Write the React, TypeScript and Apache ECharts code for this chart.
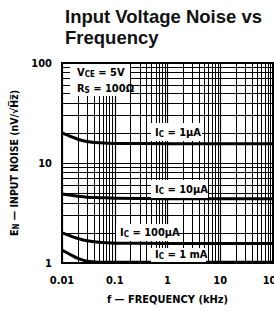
import React, { useEffect, useRef } from "react";
import * as echarts from "echarts";

// Frequency (kHz) sample points
const freqs = [0.01, 0.015, 0.02, 0.03, 0.05, 0.07, 0.1, 1, 10, 100];
// Input noise (nV/√Hz) per collector current
const ic1uA = [20, 18.3, 17.3, 16.4, 15.9, 15.8, 15.7, 15.6, 15.6, 15.6];
const ic10uA = [4.9, 4.75, 4.65, 4.55, 4.5, 4.48, 4.45, 4.4, 4.4, 4.4];
const ic100uA = [2.0, 1.85, 1.76, 1.67, 1.61, 1.59, 1.58, 1.57, 1.57, 1.57];
const ic1mA = [1.35, 1.2, 1.11, 1.04, 1.02, 1.02, 1.02, 1.02, 1.02, 1.02];

// log-paper grid
const xDecades = [0.01, 0.1, 1, 10];
const yDecades = [1, 10];
const minorMult = [2, 3, 4, 5, 6, 7, 8, 9];

const FONT = "'Liberation Sans Narrow', 'DejaVu Sans Condensed', 'Liberation Sans', sans-serif";

const pair = (ys: number[]) => freqs.map((f, i) => [f, ys[i]]);

export default function App() {
  const ref = useRef<HTMLDivElement>(null);
  useEffect(() => {
    if (!ref.current) return;
    const chart = echarts.init(ref.current, undefined, { renderer: "svg" });
    const gridLines: any[] = [];
    xDecades.forEach((d) => minorMult.forEach((m) => gridLines.push({ xAxis: d * m })));
    yDecades.forEach((d) => minorMult.forEach((m) => gridLines.push({ yAxis: d * m })));

    const curve = (name: string, ys: number[]) => ({
      name,
      type: "line",
      data: pair(ys),
      smooth: 0.3,
      symbol: "none",
      z: 5,
      lineStyle: { color: "#000", width: 3 },
    });

    const sub = { fontSize: 8, fontWeight: "bold", fontFamily: FONT, color: "#000", padding: [5, 0, 0, 0] };
    const nrm = { fontSize: 11, fontWeight: "bold", fontFamily: FONT, color: "#000" };
    const label = (x: number, y: number, text: string) => ({
      type: "text",
      x,
      y,
      z: 100,
      style: {
        text,
        rich: { n: nrm, s: sub },
        verticalAlign: "middle",
        fill: "#000",
      },
    });
    const box = (x: number, y: number, w: number, h: number) => ({
      type: "rect",
      z: 90,
      shape: { x, y, width: w, height: h },
      style: { fill: "#fff" },
    });

    chart.setOption({
      animation: false,
      backgroundColor: "#fff",
      title: {
        text: "Input Voltage Noise vs\nFrequency",
        left: 65,
        top: 6,
        padding: 0,
        textStyle: {
          fontFamily: "'Liberation Sans', Arial, sans-serif",
          fontWeight: "bold",
          fontSize: 18.5,
          lineHeight: 21,
          color: "#111",
        },
      },
      grid: {
        left: 62,
        top: 63,
        width: 211,
        height: 202,
        show: true,
        borderColor: "#000",
        borderWidth: 2,
      },
      xAxis: {
        type: "log",
        logBase: 10,
        min: 0.01,
        max: 100,
        axisLine: { show: true, lineStyle: { color: "#000", width: 2 } },
        axisTick: { show: false },
        axisLabel: {
          fontSize: 11,
          fontWeight: "bold",
          fontFamily: FONT,
          color: "#000",
          margin: 12,
          formatter: (v: number) => String(v),
        },
        splitLine: { show: true, lineStyle: { color: "#000", width: 1.2 } },
        name: "f — FREQUENCY (kHz)",
        nameLocation: "middle",
        nameGap: 31,
        nameTextStyle: { fontSize: 11, fontWeight: "bold", fontFamily: FONT, color: "#000" },
      },
      yAxis: {
        type: "log",
        logBase: 10,
        min: 1,
        max: 100,
        axisLine: { show: true, lineStyle: { color: "#000", width: 2 } },
        axisTick: { show: false },
        axisLabel: {
          fontSize: 11,
          fontWeight: "bold",
          fontFamily: FONT,
          color: "#000",
          margin: 10,
        },
        splitLine: { show: true, lineStyle: { color: "#000", width: 1.2 } },
        name: "{n|E}{s|N}{n| — INPUT NOISE (nV/√H\u0305z\u0305)}",
        nameLocation: "middle",
        nameGap: 34,
        nameTextStyle: {
          rich: {
            n: { fontSize: 10.5, fontWeight: "bold", fontFamily: FONT, color: "#000" },
            s: { fontSize: 8, fontWeight: "bold", fontFamily: FONT, color: "#000", padding: [5, 0, 0, 0] },
          },
        },
      },
      series: [
        {
          type: "line",
          data: [[0.01, 1]],
          symbol: "none",
          lineStyle: { opacity: 0 },
          silent: true,
          z: 1,
          markLine: {
            silent: true,
            symbol: ["none", "none"],
            label: { show: false },
            lineStyle: { color: "#000", width: 1, type: "solid" },
            data: gridLines,
          },
        },
        curve("IC = 1µA", ic1uA),
        curve("IC = 10µA", ic10uA),
        curve("IC = 100µA", ic100uA),
        curve("IC = 1 mA", ic1mA),
      ],
      graphic: [
        box(70, 64, 60, 32),
        label(77, 72, "{n|V}{s|CE}{n| = 5V}"),
        label(77, 88, "{n|R}{s|S}{n| = 100Ω}"),
        box(151, 123, 51, 18),
        label(155, 132, "{n|I}{s|C}{n| = 1µA}"),
        box(151, 180, 57, 18),
        label(155, 189, "{n|I}{s|C}{n| = 10µA}"),
        box(116, 224, 62, 17),
        label(120, 232, "{n|I}{s|C}{n| = 100µA}"),
        box(151, 248, 55, 14),
        label(155, 254, "{n|I}{s|C}{n| = 1 mA}"),
      ],
    });
    return () => chart.dispose();
  }, []);

  return (
    <div
      style={{
        position: "fixed",
        left: 0,
        top: 0,
        width: 274,
        height: 310,
        overflow: "hidden",
        background: "#fff",
      }}
    >
      <div ref={ref} style={{ width: 300, height: 310 }} />
    </div>
  );
}
